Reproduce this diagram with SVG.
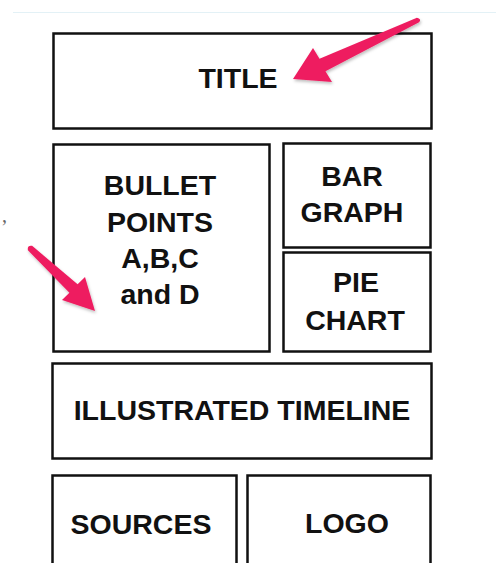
<svg xmlns="http://www.w3.org/2000/svg" width="496" height="563" viewBox="0 0 496 563">
<defs>
<style>
.box{fill:#fff;stroke:#111;stroke-width:2.5}
.lbl{font-family:"Liberation Sans",Arial,sans-serif;font-weight:bold;font-size:28.5px;fill:#111;text-anchor:middle}
.arrow{fill:#ee1f60}
</style>
<filter id="sh" x="-20%" y="-20%" width="140%" height="140%">
<feDropShadow dx="1" dy="2" stdDeviation="1.5" flood-color="#000" flood-opacity="0.25"/>
</filter>
</defs>
<rect width="496" height="563" fill="#fff"/>
<line x1="13" y1="12.5" x2="496" y2="12.5" stroke="#e3f1f6" stroke-width="1"/>
<text x="2" y="222" font-family="Liberation Serif,serif" font-size="20" fill="#666">,</text>
<g id="title"><rect class="box" x="53.5" y="33.5" width="378" height="95"/><text class="lbl" x="238" y="88">TITLE</text></g>
<g id="bullets"><rect class="box" x="53.5" y="144.5" width="216" height="207"/>
<text class="lbl" x="160" y="195">BULLET</text><text class="lbl" x="160" y="232">POINTS</text><text class="lbl" x="160" y="268">A,B,C</text><text class="lbl" x="160" y="304">and D</text></g>
<g id="bar"><rect class="box" x="283.5" y="143.5" width="147" height="104"/><text class="lbl" x="352" y="186">BAR</text><text class="lbl" x="352" y="222">GRAPH</text></g>
<g id="pie"><rect class="box" x="283.5" y="252.5" width="147" height="99"/><text class="lbl" x="356" y="292">PIE</text><text class="lbl" x="355" y="330">CHART</text></g>
<g id="timeline"><rect class="box" x="52.5" y="363.5" width="379" height="95"/><text class="lbl" x="242" y="420">ILLUSTRATED TIMELINE</text></g>
<g id="sources"><rect class="box" x="52.5" y="475.5" width="184" height="100"/><text class="lbl" x="141" y="534">SOURCES</text></g>
<g id="logo"><rect class="box" x="247.5" y="475.5" width="183" height="100"/><text class="lbl" x="347" y="533">LOGO</text></g>
<g id="connectors" filter="url(#sh)">
<path class="arrow" d="M416.9 17.7 L319.5 58.7 L313 48 L293 79 L332 82 L325.5 71.3 L419.1 22.3 Q422 19 416.9 17.7 Z"/>
<path class="arrow" d="M32.1 245.8 L77.6 284.2 L85 277 L95 311 L62 300 L69.4 292.8 L27.9 250.2 Q27 245 32.1 245.8 Z"/>
</g>
</svg>
